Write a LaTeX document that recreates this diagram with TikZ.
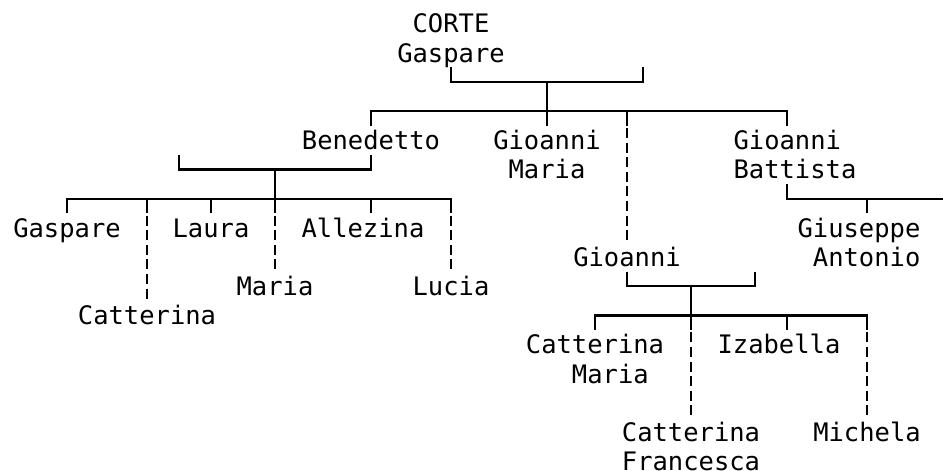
\documentclass[tikz,border=0pt]{standalone}
\usepackage{fontspec}
\newfontfamily\monofont{DejaVu Sans Mono}
\usetikzlibrary{positioning}
\tikzstyle{person} = [font=\monofont\fontsize{14.5}{16.62}\selectfont, inner sep=0pt, outer sep=0pt, anchor=north, text height=0.478cm, text depth=0.106cm]
\tikzstyle{couple} = [person, text height=1.062cm]
\tikzstyle{conn} = [line width=1.25pt]
\tikzstyle{dconn} = [line width=1.25pt, dash pattern=on 0.2cm off 0.092cm, dash phase=0.246cm]

\begin{document}
\begin{tikzpicture}[x=0.32cm, y=-0.584cm]
        \useasboundingbox (-1.1875,-0.8048) rectangle (57.75,15.325);

        % Generazione 1
        \node (root) [couple, align=center] at (27,-0.5) {CORTE\\Gaspare};

        % Generazione 2
        \node (ben) [person] at (22,3.5) {Benedetto};
        \node (gm) [couple, align=center] at (33,3.5) {Gioanni\\Maria};
        \node (gio) [person] at (38,7.5) {Gioanni};
        \node (gb) [couple, align=left] at (48.5,3.5) {Gioanni\\Battista};

        % Figli di Benedetto
        \node (gasp) [person] at (3,6.5) {Gaspare};
        \node (laura) [person] at (12,6.5) {Laura};
        \node (alle) [person] at (21.5,6.5) {Allezina};
        \node (catt) [person] at (8,9.5) {Catterina};
        \node (maria) [person] at (16,8.5) {Maria};
        \node (lucia) [person] at (27,8.5) {Lucia};

        % Figlio di Gioanni Battista
        \node (gius) [couple, align=right] at (52.5,6.5) {Giuseppe\\Antonio};

        % Figli di Gioanni
        \node (cmar) [couple, align=left] at (36,10.5) {Catterina\\\hphantom{Cat}Maria};
        \node (iza) [person] at (47.5,10.5) {Izabella};
        \node (cfra) [couple, align=center] at (42,13.5) {Catterina\\Francesca};
        \node (mich) [person] at (53,13.5) {Michela};

        % Linee: Gaspare
        \draw [conn] (root.south) -- ++(0,0.5) -| (39,1.5);
        \draw [conn] (gm.north) -- ++(0,-1.5);
        \draw [conn] (ben.north) -- ++(0,-0.5) -| ([xshift=-0.16cm]gb.north);
        \draw [conn] (gio.north |- 0,3) -- ++(0,0.5);
        \draw [dconn] (gio.north |- 0,3.5) -- (gio.north);

        % Linee: Benedetto
        \draw [conn] (ben.south) -- ++(0,0.5) -| (10,4.5);
        \draw [conn] (maria.north |- 0,5) -- ++(0,1.5);
        \draw [dconn] (maria.north |- 0,6.5) -- (maria.north);
        \draw [conn] (gasp.north) -- ++(0,-0.5) -| (lucia.north |- 0,6.5);
        \draw [dconn] (lucia.north |- 0,6.5) -- (lucia.north);
        \draw [conn] (laura.north) -- ++(0,-0.5);
        \draw [conn] (ben.south |- alle.north) -- ++(0,-0.5);
        \draw [conn] (catt.north |- 0,6) -- ++(0,0.5);
        \draw [dconn] (catt.north |- 0,6.5) -- (catt.north);

        % Linee: Gioanni Battista
        \draw [conn] ([xshift=-0.16cm]gb.south) -- ++(0,0.5) -- (57.75,6);
        \draw [conn] ([xshift=0.16cm]gius.north) -- ++(0,-0.5);

        % Linee: Gioanni
        \draw [conn] (gio.south) -- ++(0,0.5) -| (46,8.5);
        \draw [conn] (cfra.north |- 0,9) -- ++(0,1.5);
        \draw [dconn] (cfra.north |- 0,10.5) -- (cfra.north);
        \draw [conn] (cmar.north) -- ++(0,-0.5) -| (mich.north |- 0,10.5);
        \draw [dconn] (mich.north |- 0,10.5) -- (mich.north);
        \draw [conn] ([xshift=0.16cm]iza.north) -- ++(0,-0.5);
    \end{tikzpicture}
\end{document}
